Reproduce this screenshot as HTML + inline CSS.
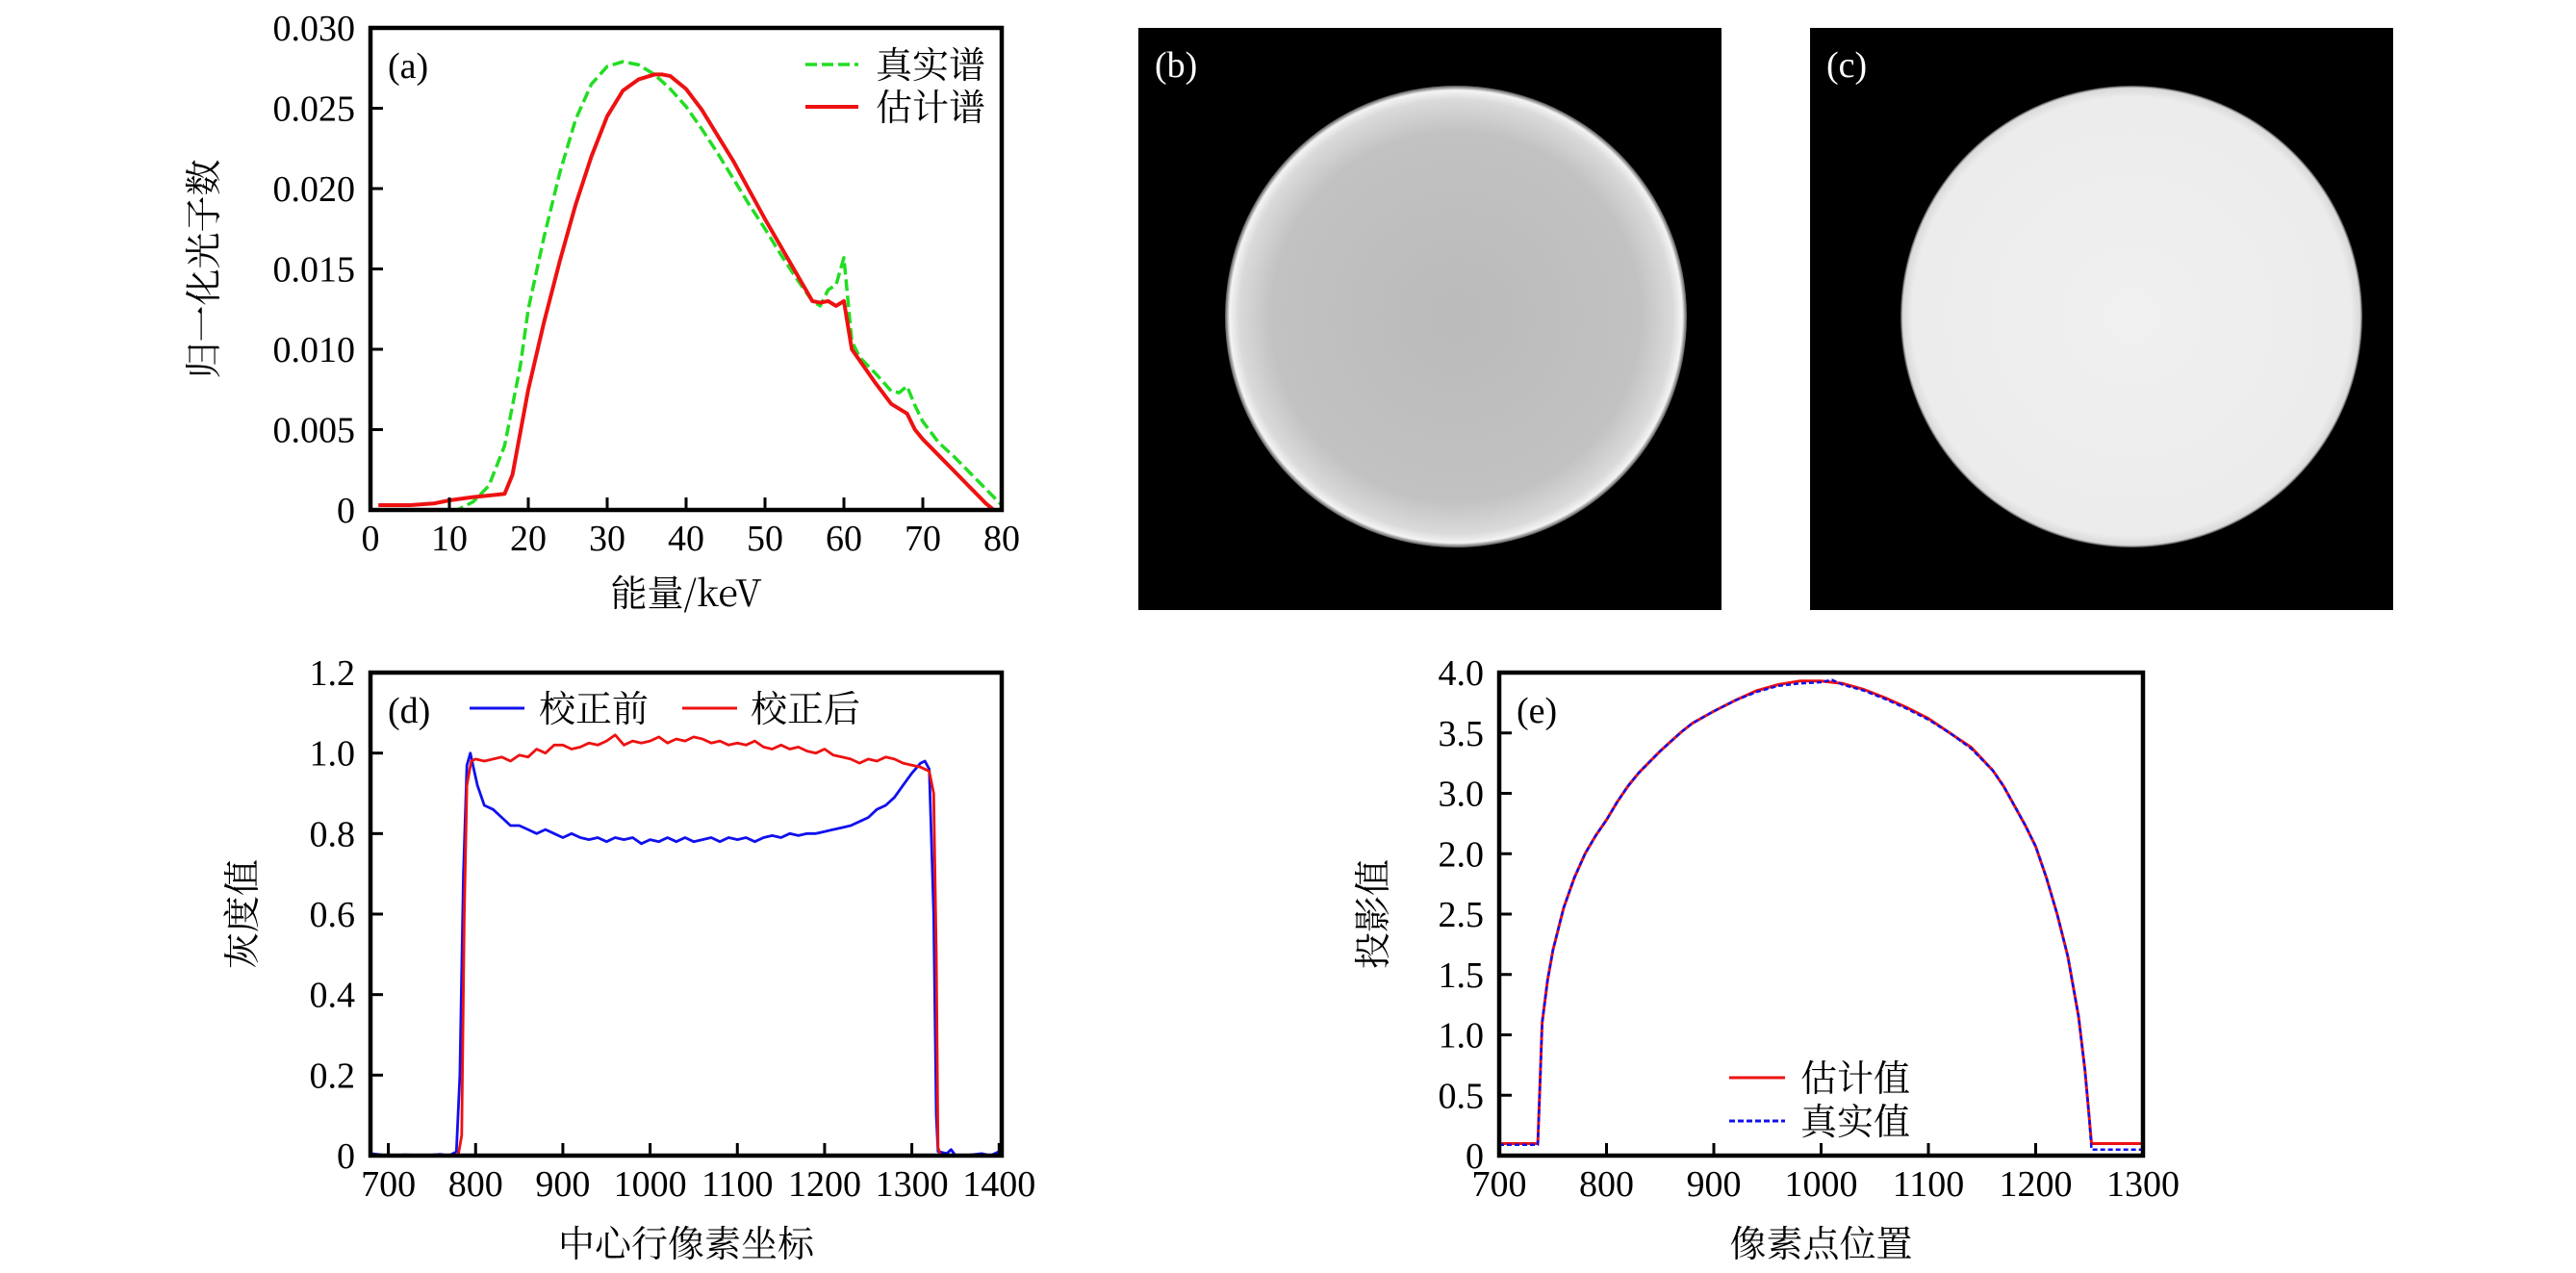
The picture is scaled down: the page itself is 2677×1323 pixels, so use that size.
<!DOCTYPE html>
<html><head><meta charset="utf-8"><style>
html,body{margin:0;padding:0;background:#fff;}
svg{display:block;}
text{font-family:"Liberation Serif","Noto Serif CJK SC",serif;fill:#000;}
.cjk{font-family:"Noto Serif CJK SC","Liberation Serif",serif;}
</style></head><body>
<svg id="fig" width="2677" height="1323" viewBox="0 0 2677 1323" xmlns="http://www.w3.org/2000/svg">
<defs>
<radialGradient id="gb" cx="50%" cy="50%" r="50%">
<stop offset="0%" stop-color="#bababa"/><stop offset="80%" stop-color="#c2c2c2"/><stop offset="94%" stop-color="#dadada"/><stop offset="98%" stop-color="#f4f4f4"/><stop offset="100%" stop-color="#555"/>
</radialGradient>
<radialGradient id="gc" cx="50%" cy="50%" r="50%">
<stop offset="0%" stop-color="#f0f0f0"/><stop offset="95%" stop-color="#ececec"/><stop offset="99%" stop-color="#dadada"/><stop offset="100%" stop-color="#444"/>
</radialGradient>
</defs>
<g>
<rect x="1183" y="29" width="606" height="605" fill="#000"/>
<circle cx="1513" cy="329" r="240" fill="url(#gb)"/>
<text x="1200" y="80" style="fill:#fff;font-size:38px">(b)</text>
</g>
<g>
<rect x="1881" y="29" width="606" height="605" fill="#000"/>
<circle cx="2215" cy="329" r="240" fill="url(#gc)"/>
<text x="1898" y="80" style="fill:#fff;font-size:38px">(c)</text>
</g>
<g id="pa"></g><g id="pd"></g><g id="pe"></g>
</svg>
<script>
// ---- panel (a) data ----
const aTrueX=[0,5,10,11,13,15,17,19,20,22,24,26,28,30,32,34,36,38,40,42,44,46,48,50,52,54,56,57,58,59,60,61,62,64,66,67,68,69,70,72,74,76,78,80];
const aTrueY=[0,0,0,0,0.0005,0.0015,0.004,0.009,0.0125,0.017,0.021,0.0243,0.0265,0.0276,0.0279,0.0277,0.0271,0.0262,0.0251,0.0237,0.0222,0.0206,0.019,0.0175,0.0159,0.0144,0.013,0.0127,0.0137,0.014,0.0157,0.0105,0.0095,0.0085,0.0074,0.0073,0.0077,0.0065,0.0055,0.0042,0.0033,0.0023,0.0013,0.0003];
const aEstX=[1,5,8,10,13,15,17,18,20,22,24,26,28,30,32,34,36,37,38,40,42,44,46,48,50,52,54,56,57,58,59,60,61,62,64,66,68,69,70,72,74,76,78,79,80];
const aEstY=[0.0003,0.0003,0.0004,0.0006,0.0008,0.0009,0.001,0.0022,0.0075,0.0117,0.0155,0.019,0.022,0.0245,0.0261,0.0268,0.0271,0.0271,0.027,0.0262,0.0249,0.0233,0.0217,0.0199,0.0181,0.0164,0.0147,0.013,0.0129,0.013,0.0127,0.013,0.01,0.0093,0.0079,0.0066,0.006,0.005,0.0044,0.0034,0.0024,0.0014,0.0004,0,0];
const aXTicks=[0,10,20,30,40,50,60,70,80];
const aYTicks=[0,0.005,0.010,0.015,0.020,0.025,0.030];
const aYLabels=["0","0.005","0.010","0.015","0.020","0.025","0.030"];
// ---- panel (d) data ----
const dBlueX=[680,700,720,740,760,770,778,782,786,790,794,798,802,810,820,830,840,850,860,870,880,890,900,910,920,930,940,950,960,970,980,990,1000,1010,1020,1030,1040,1050,1060,1070,1080,1090,1100,1110,1120,1130,1140,1150,1160,1170,1180,1190,1200,1210,1220,1230,1240,1250,1260,1270,1280,1290,1300,1310,1315,1320,1325,1328,1330,1340,1345,1350,1360,1380,1390,1400];
const dBlueY=[0.005,0,0.002,0,0.003,0,0.01,0.2,0.7,0.97,1.0,0.96,0.92,0.87,0.86,0.84,0.82,0.82,0.81,0.80,0.81,0.80,0.79,0.80,0.79,0.785,0.79,0.78,0.79,0.785,0.79,0.775,0.785,0.78,0.79,0.78,0.79,0.78,0.785,0.79,0.78,0.79,0.785,0.79,0.78,0.79,0.795,0.79,0.80,0.795,0.80,0.80,0.805,0.81,0.815,0.82,0.83,0.84,0.86,0.87,0.89,0.92,0.95,0.975,0.98,0.96,0.6,0.1,0.01,0.005,0.015,0,0,0.005,0,0.01];
const dRedX=[680,780,784,787,790,795,800,810,820,830,840,850,860,870,880,890,900,910,920,930,940,950,960,970,980,990,1000,1010,1020,1030,1040,1050,1060,1070,1080,1090,1100,1110,1120,1130,1140,1150,1160,1170,1180,1190,1200,1210,1220,1230,1240,1250,1260,1270,1280,1290,1300,1310,1320,1325,1328,1330,1333,1400];
const dRedY=[0,0,0.05,0.6,0.92,0.98,0.985,0.98,0.985,0.99,0.98,0.995,0.99,1.01,1.0,1.02,1.02,1.01,1.015,1.025,1.02,1.03,1.045,1.02,1.03,1.025,1.03,1.04,1.025,1.035,1.03,1.04,1.035,1.025,1.03,1.02,1.025,1.02,1.03,1.015,1.01,1.02,1.01,1.015,1.005,1.0,1.01,0.995,0.99,0.985,0.975,0.985,0.98,0.99,0.985,0.975,0.97,0.965,0.955,0.9,0.5,0.02,0,0];
const dXTicks=[700,800,900,1000,1100,1200,1300,1400];
const dYTicks=[0,0.2,0.4,0.6,0.8,1.0,1.2];
const dYLabels=["0","0.2","0.4","0.6","0.8","1.0","1.2"];
// ---- panel (e) data ----
const eEstX=[700,736,738,740,745,750,760,770,780,790,800,810,820,830,840,850,860,870,880,890,900,920,940,960,980,1000,1020,1040,1060,1080,1100,1120,1140,1160,1170,1180,1190,1200,1210,1220,1230,1240,1246,1250,1252,1300];
const eEstY=[0.1,0.1,0.6,1.1,1.45,1.7,2.05,2.3,2.5,2.65,2.78,2.93,3.06,3.17,3.26,3.35,3.43,3.51,3.58,3.63,3.68,3.77,3.85,3.9,3.93,3.93,3.91,3.86,3.79,3.71,3.62,3.5,3.38,3.19,3.06,2.9,2.74,2.56,2.3,2.0,1.65,1.15,0.7,0.3,0.1,0.1];
const eTrueX=[700,736,738,740,745,750,760,770,780,790,800,810,820,830,840,850,860,870,880,890,900,920,940,960,980,1000,1010,1020,1040,1060,1080,1100,1120,1140,1160,1170,1180,1190,1200,1210,1220,1230,1240,1246,1250,1252,1300];
const eTrueY=[0.09,0.09,0.6,1.1,1.45,1.7,2.05,2.3,2.5,2.65,2.78,2.93,3.06,3.17,3.26,3.35,3.43,3.51,3.58,3.63,3.68,3.77,3.84,3.89,3.91,3.92,3.94,3.9,3.85,3.78,3.7,3.61,3.5,3.37,3.19,3.06,2.9,2.74,2.56,2.3,2.0,1.65,1.15,0.7,0.3,0.05,0.05];
const eXTicks=[700,800,900,1000,1100,1200,1300];
const eYTicks=[0,0.5,1.0,1.5,2.0,2.5,3.0,3.5,4.0];
const eYLabels=["0","0.5","1.0","1.5","2.5","2.0","3.0","3.5","4.0"];

const NS="http://www.w3.org/2000/svg";
function mk(parent,tag,attrs){const e=document.createElementNS(NS,tag);for(const k in attrs)e.setAttribute(k,attrs[k]);parent.appendChild(e);return e;}
function scale(d0,d1,r0,r1){return v=>r0+(v-d0)/(d1-d0)*(r1-r0);}

function drawPanel(g,o){
  const sx=scale(o.xd[0],o.xd[1],o.L,o.R), sy=scale(o.yd[0],o.yd[1],o.B,o.T);
  o.series.forEach(s=>{
    const d=s.x.map((v,i)=>(i?'L':'M')+sx(v).toFixed(1)+' '+sy(s.y[i]).toFixed(1)).join(' ');
    const p=mk(g,'path',{d:d,fill:'none',stroke:s.color,'stroke-width':s.w,'stroke-dasharray':s.dash||'none','stroke-linejoin':'round'});
    
    
  });
  const box=mk(g,'rect',{x:o.L,y:o.T,width:o.R-o.L,height:o.B-o.T,fill:'none',stroke:'#000','stroke-width':4.5});
  
  
  o.xt.forEach(v=>{
    const X=sx(v);
    const t=mk(g,'line',{x1:X,y1:o.B,x2:X,y2:o.B-13,stroke:'#000','stroke-width':3});
    
    
    const l=mk(g,'text',{x:X,y:o.B+42,'text-anchor':'middle','font-size':38});
    l.textContent=String(v);
    
    
  });
  o.yt.forEach((v,i)=>{
    const Y=sy(v);
    const t=mk(g,'line',{x1:o.L,y1:Y,x2:o.L+13,y2:Y,stroke:'#000','stroke-width':3});
    
    
    const l=mk(g,'text',{x:o.L-16,y:Y+13,'text-anchor':'end','font-size':38});
    l.textContent=o.yl[i];
    
    
  });
  const xt=mk(g,'text',{x:(o.L+o.R)/2,y:o.xTitleY,'text-anchor':'middle','font-size':38,'class':'cjk'});
  xt.textContent=o.xTitle;
  
  
  const yt=mk(g,'text',{x:0,y:0,'text-anchor':'middle','font-size':38,'class':'cjk',transform:`translate(${o.yTitleX},${(o.T+o.B)/2}) rotate(-90)`});
  yt.textContent=o.yTitle;
  
  
  const pl=mk(g,'text',{x:o.L+18,y:o.T+52,'font-size':38});
  pl.textContent=o.label;
  
  
  o.legend.forEach(e=>{
    const ln=mk(g,'line',{x1:e.x1,y1:e.y,x2:e.x2,y2:e.y,stroke:e.color,'stroke-width':e.w,'stroke-dasharray':e.dash||'none'});
    
    
    const tx=mk(g,'text',{x:e.tx,y:e.y+14,'font-size':38,'class':'cjk'});
    tx.textContent=e.text;
    
    
  });
}

const pa=document.getElementById('pa');


drawPanel(pa,{L:385,R:1041,T:29,B:530,xd:[0,80],yd:[0,0.030],xt:aXTicks,yt:aYTicks,yl:aYLabels,
  xTitle:'能量/keV',xTitleY:630,yTitle:'归一化光子数',yTitleX:225,label:'(a)',
  series:[{x:aTrueX,y:aTrueY,color:'#22dd22',w:3.5,dash:'12 5',name:'true-spectrum-line'},{x:aEstX,y:aEstY,color:'#ee1111',w:4,name:'estimated-spectrum-line'}],
  legend:[{x1:837,x2:892,y:67,color:'#22dd22',w:3.5,dash:'12 5',tx:910,text:'真实谱'},{x1:837,x2:892,y:111,color:'#ee1111',w:4,tx:910,text:'估计谱'}]});

const pd=document.getElementById('pd');


drawPanel(pd,{L:385,R:1041,T:699,B:1201,xd:[679.5,1403],yd:[0,1.2],xt:dXTicks,yt:dYTicks,yl:dYLabels,
  xTitle:'中心行像素坐标',xTitleY:1306,yTitle:'灰度值',yTitleX:265,label:'(d)',
  series:[{x:dBlueX,y:dBlueY,color:'#1010ee',w:2.8,name:'before-correction-line'},{x:dRedX,y:dRedY,color:'#ee1111',w:2.8,name:'after-correction-line'}],
  legend:[{x1:488,x2:545,y:736,color:'#1010ee',w:3,tx:560,text:'校正前'},{x1:709,x2:766,y:736,color:'#ee1111',w:3,tx:780,text:'校正后'}]});

const pe=document.getElementById('pe');


drawPanel(pe,{L:1558,R:2227,T:699,B:1201,xd:[700,1300],yd:[0,4],xt:eXTicks,yt:eYTicks,yl:eYLabels,
  xTitle:'像素点位置',xTitleY:1306,yTitle:'投影值',yTitleX:1440,label:'(e)',
  series:[{x:eEstX,y:eEstY,color:'#ee1111',w:3,name:'estimated-projection-line'},{x:eTrueX,y:eTrueY,color:'#1010ee',w:2.5,dash:'5 3',name:'true-projection-line'}],
  legend:[{x1:1797,x2:1855,y:1120,color:'#ee1111',w:3,tx:1871,text:'估计值'},{x1:1797,x2:1855,y:1165,color:'#1010ee',w:3,dash:'6 3',tx:1871,text:'真实值'}]});
</script>
</body></html>
